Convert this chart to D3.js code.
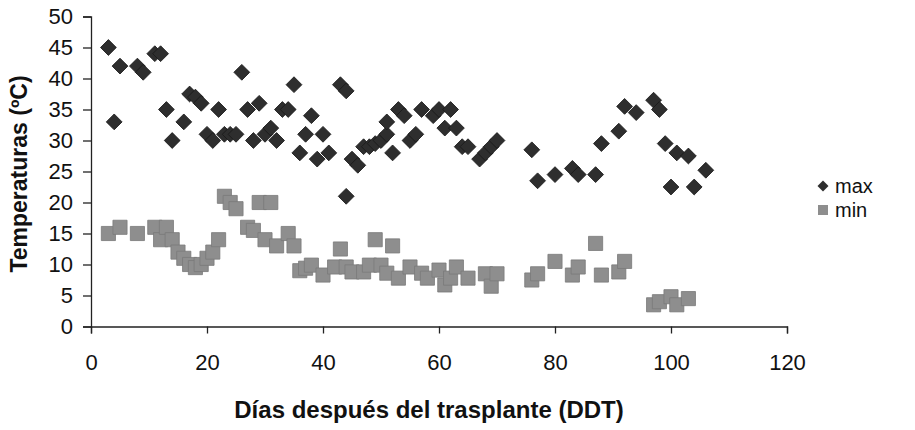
<!DOCTYPE html>
<html>
<head>
<meta charset="utf-8">
<script src="https://d3js.org/d3.v7.min.js"></script>
<style>
  body { margin: 0; background: #fff; }
  text { font-family: "Liberation Sans", Arial, sans-serif; }
</style>
</head>
<body>
<svg width="915" height="430"></svg>
<script>
// daily max temperature (days after transplant, ºC)
const maxDays = [3, 4, 5, 8, 9, 11, 12, 13, 14, 16, 17, 18, 19, 20, 21, 22, 23, 24, 25, 26,
    27, 28, 29, 30, 31, 32, 33, 34, 35, 36, 37, 38, 39, 40, 41, 43, 44, 44, 45, 46,
    47, 48, 49, 50, 51, 51, 52, 53, 54, 55, 56, 57, 59, 60, 61, 62, 63, 64, 65, 67,
    68, 69, 70, 76, 77, 80, 83, 84, 87, 88, 91, 92, 94, 97, 98, 99, 100, 101, 103, 104, 106];
const maxTemps = [45, 33, 42, 42, 41, 44, 44, 35, 30, 33, 37.5, 37, 36, 31, 30, 35, 31, 31, 31, 41,
    35, 30, 36, 31, 32, 30, 35, 35, 39, 28, 31, 34, 27, 31, 28, 39, 38, 21, 27, 26,
    29, 29, 29.5, 30, 31, 33, 28, 35, 34, 30, 31, 35, 34, 35, 32, 35, 32, 29, 29, 27,
    28, 29, 30, 28.5, 23.5, 24.5, 25.5, 24.5, 24.5, 29.5, 31.5, 35.5, 34.5, 36.5, 35, 29.5, 22.5, 28, 27.5, 22.5, 25.2];

// daily min temperature
const minDays = [3, 5, 8, 11, 12, 13, 14, 15, 16, 17, 18, 19, 20, 21, 22, 23, 24, 25, 27, 28,
    29, 30, 31, 32, 34, 35, 36, 37, 38, 40, 42, 43, 44, 45, 47, 48, 49, 50, 51, 52,
    53, 55, 57, 58, 60, 61, 62, 63, 65, 68, 69, 70, 76, 77, 80, 83, 84, 87, 88, 91,
    92, 97, 98, 100, 101, 103];
const minTemps = [15, 16, 15, 16, 14, 16, 14, 12, 11, 10, 9.5, 10, 11, 12, 14, 21, 20, 19, 16, 15.5,
    20, 14, 20, 13, 15, 13, 9, 9.4, 9.9, 8.3, 9.6, 12.5, 9.6, 8.8, 8.8, 9.9, 14, 9.9, 8.6, 13,
    7.8, 9.6, 8.6, 7.8, 9.1, 6.7, 7.8, 9.6, 7.8, 8.5, 6.5, 8.5, 7.5, 8.5, 10.5, 8.3, 9.6, 13.4, 8.3, 8.8,
    10.5, 3.5, 4, 4.8, 3.5, 4.5];

const xTicks = [0, 20, 40, 60, 80, 100, 120];
const yTicks = [0, 5, 10, 15, 20, 25, 30, 35, 40, 45, 50];
const seriesNames = ["max", "min"];

const svg = d3.select("svg");

const x = d3.scaleLinear().domain([0, 120]).range([91, 787]);
const y = d3.scaleLinear().domain([0, 50]).range([326.5, 16.5]);

const maxData = maxDays.map((d, i) => ({ x: d, y: maxTemps[i] }));
const minData = minDays.map((d, i) => ({ x: d, y: minTemps[i] }));

const diamond = d3.symbol().type(d3.symbolSquare).size(125);
const square = d3.symbol().type(d3.symbolSquare).size(200);

// axes
svg.append("g")
    .attr("transform", "translate(0," + y(0) + ")")
    .call(d3.axisBottom(x).tickValues(xTicks).tickSize(7).tickPadding(21))
    .call(g => g.select(".domain").attr("stroke", "#222").attr("stroke-width", 1.3))
    .call(g => g.selectAll(".tick line").attr("stroke", "#222").attr("stroke-width", 1.3))
    .call(g => g.selectAll("text").attr("font-size", 22).attr("fill", "#111"));

svg.append("g")
    .attr("transform", "translate(" + x(0) + ",0)")
    .call(d3.axisLeft(y).tickValues(yTicks).tickSize(8).tickPadding(10))
    .call(g => g.select(".domain").attr("stroke", "#222").attr("stroke-width", 1.3))
    .call(g => g.selectAll(".tick line").attr("stroke", "#222").attr("stroke-width", 1.3))
    .call(g => g.selectAll("text").attr("font-size", 22).attr("fill", "#111"));

// min squares
svg.append("g")
    .selectAll("path")
    .data(minData)
    .enter().append("path")
    .attr("d", square)
    .attr("transform", d => "translate(" + x(d.x) + "," + y(d.y) + ")")
    .attr("fill", "#8e8e8e")
    .attr("stroke", "#7a7a7a")
    .attr("stroke-width", 0.8);

// max diamonds
svg.append("g")
    .selectAll("path")
    .data(maxData)
    .enter().append("path")
    .attr("d", diamond)
    .attr("transform", d => "translate(" + x(d.x) + "," + y(d.y) + ") rotate(45)")
    .attr("fill", "#2e2e2e")
    .attr("stroke", "#1a1a1a")
    .attr("stroke-width", 0.8);

// titles
svg.append("text")
    .attr("x", 429)
    .attr("y", 418)
    .attr("text-anchor", "middle")
    .attr("font-size", 24)
    .attr("font-weight", "bold")
    .attr("fill", "#111")
    .text("Días después del trasplante (DDT)");

svg.append("text")
    .attr("transform", "translate(27,174) rotate(-90)")
    .attr("text-anchor", "middle")
    .attr("font-size", 23)
    .attr("font-weight", "bold")
    .attr("fill", "#111")
    .text("Temperaturas (ºC)");

// legend
const legend = svg.append("g").attr("transform", "translate(823,186)");
legend.append("path")
    .attr("d", d3.symbol().type(d3.symbolSquare).size(60))
    .attr("transform", "rotate(45)")
    .attr("fill", "#2e2e2e");
legend.append("path")
    .attr("d", d3.symbol().type(d3.symbolSquare).size(100))
    .attr("transform", "translate(0,24)")
    .attr("fill", "#8e8e8e");
legend.selectAll("text")
    .data(seriesNames)
    .enter().append("text")
    .attr("x", 12)
    .attr("y", (d, i) => i * 24 + 7)
    .attr("font-size", 20)
    .attr("fill", "#111")
    .text(d => d);
</script>
</body>
</html>
